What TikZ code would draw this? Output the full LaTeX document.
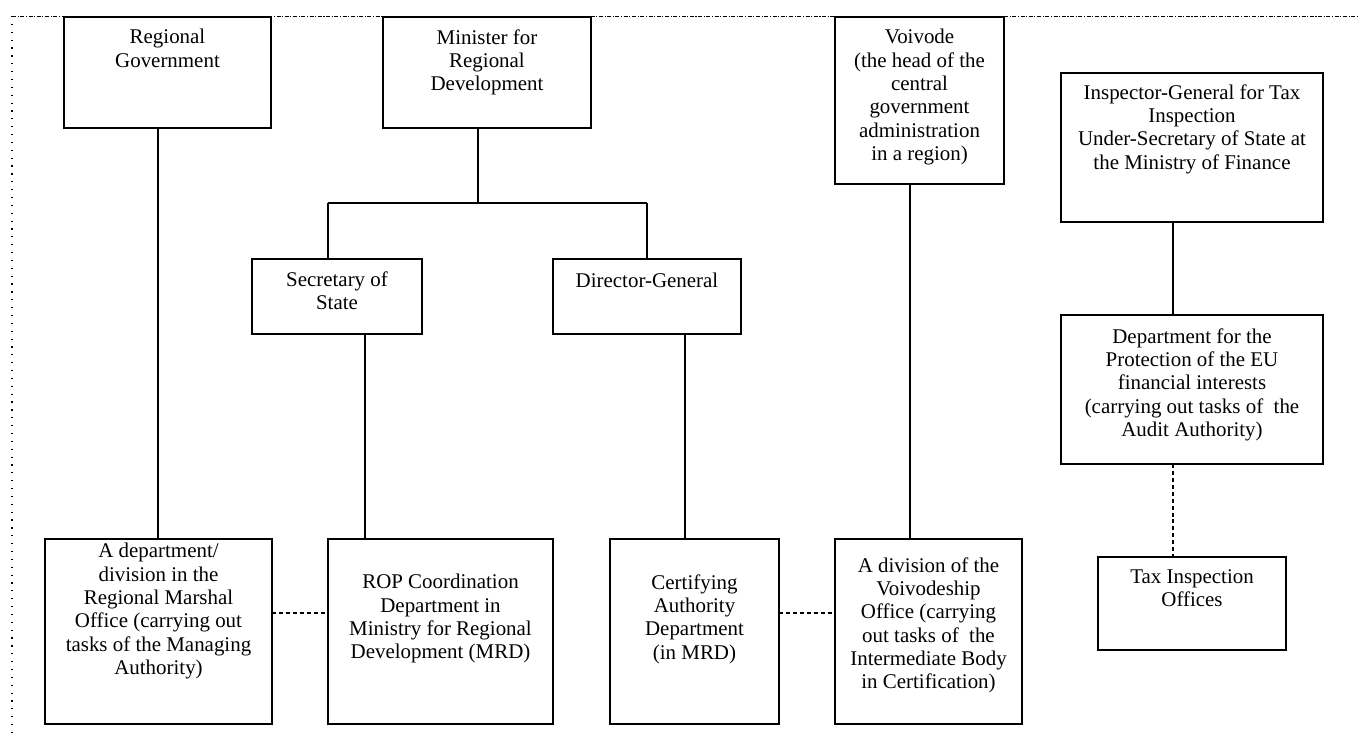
\documentclass[tikz,border=0pt]{standalone}
\usepackage{fontspec}
\setmainfont{Liberation Serif}
\begin{document}
\begin{tikzpicture}[x=0.75pt,y=-0.75pt,
  box/.style={draw, line width=1.2pt, rectangle, inner sep=0pt, outer sep=0pt},
  txt/.style={align=center, inner sep=0pt, anchor=north, font=\fontsize{15.7pt}{17.5pt}\selectfont, execute at begin node={\rule{0pt}{12pt}}},
  conn/.style={line width=0.9pt},
  dconn/.style={line width=0.9pt, dash pattern=on 3pt off 2.2pt},
  frametop/.style={line width=0.6pt, dash pattern=on 3pt off 1.2pt on 0.8pt off 1.2pt},
  frameleft/.style={line width=1pt, dash pattern=on 0.9pt off 5pt}]
\useasboundingbox (0,0) rectangle (1363,735);
\newcommand\mybox[5]{\node[box, minimum width={(#4-#2)*0.75pt}, minimum height={(#5-#3)*0.75pt}] (#1) at ({(#2+#4)/2},{(#3+#5)/2}) {};}
% frame
\coordinate (fTL) at (12,16);
\coordinate (fTR) at (1357,16);
\coordinate (fBL) at (12,735);
\draw[frametop] (fTL) -- (fTR);
\draw[frameleft] (fTL) -- (fBL);
% boxes
\mybox{rg}{64}{17}{271}{128}
\mybox{mrd}{383}{17}{591}{128}
\mybox{voi}{835}{17}{1004}{184}
\mybox{ins}{1061}{73}{1323}{222}
\mybox{sec}{252}{259}{422}{334}
\mybox{dir}{553}{259}{741}{334}
\mybox{dep}{1061}{315}{1323}{464}
\mybox{ma}{45}{539}{272}{724}
\mybox{rop}{328}{539}{553}{724}
\mybox{cer}{610}{539}{779}{724}
\mybox{div}{835}{539}{1022}{724}
\mybox{tax}{1098}{557}{1286}{650}
% texts (y = first baseline - 16)
\node[txt] (rgt) at (167.5,29) {Regional\\Government};
\node[txt] (mrdt) at (487,29) {Minister for\\Regional\\Development};
\node[txt] (voit) at (919.5,29) {Voivode\\(the head of the\\central\\government\\administration\\in a region)};
\node[txt] (inst) at (1192,84) {Inspector-General for Tax\\Inspection\\Under-Secretary of State at\\the Ministry of Finance};
\node[txt] (sect) at (337,271) {Secretary of\\State};
\node[txt] (dirt) at (647,271) {Director-General};
\node[txt] (dept) at (1192,328) {Department for the\\Protection of the EU\\financial interests\\(carrying out tasks of\ \ the\\Audit Authority)};
\node[txt] (mat) at (158.5,543) {A department/\\division in the\\Regional Marshal\\Office (carrying out\\tasks of the Managing\\Authority)};
\node[txt] (ropt) at (440.5,574) {ROP Coordination\\Department in\\Ministry for Regional\\Development (MRD)};
\node[txt] (cert) at (694.5,574) {Certifying\\Authority\\Department\\(in MRD)};
\node[txt] (divt) at (928.5,557) {A division of the\\Voivodeship\\Office (carrying\\out tasks of\ \ the\\Intermediate Body\\in Certification)};
\node[txt] (taxt) at (1192,569) {Tax Inspection\\Offices};
% connectors
\draw[conn] (rg.south -| 158,0) -- (ma.north -| 158,0);
\coordinate (busM) at (478,203);
\coordinate (busL) at (328,203);
\coordinate (busR) at (647,203);
\draw[conn] (mrd.south -| busM) -- (busM);
\draw[conn] (busL) -- (busR);
\draw[conn] (busL) -- (sec.north -| busL);
\draw[conn] (busR) -- (dir.north -| busR);
\draw[conn] (sec.south -| 365,0) -- (rop.north -| 365,0);
\draw[conn] (dir.south -| 685,0) -- (cer.north -| 685,0);
\draw[conn] (voi.south -| 910,0) -- (div.north -| 910,0);
\draw[conn] (ins.south -| 1173,0) -- (dep.north -| 1173,0);
\draw[dconn] (dep.south -| 1173,0) -- (tax.north -| 1173,0);
\draw[dconn] (ma.east |- 0,613) -- (rop.west |- 0,613);
\draw[dconn] (cer.east |- 0,613) -- (div.west |- 0,613);
\end{tikzpicture}
\end{document}
